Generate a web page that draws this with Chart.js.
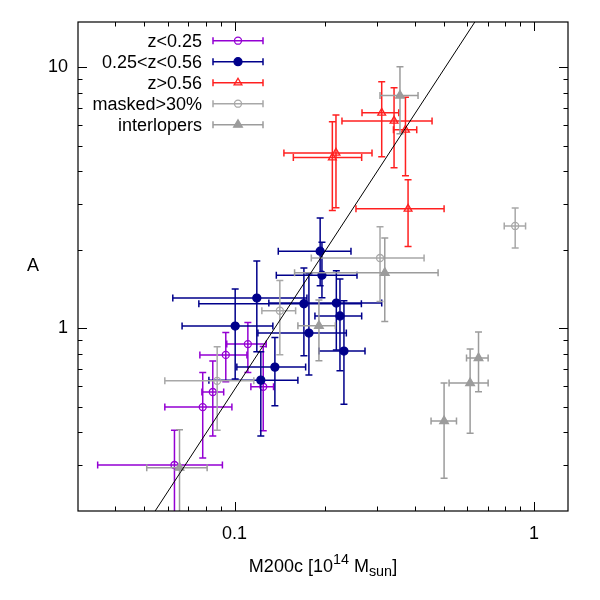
<!DOCTYPE html>
<html><head><meta charset="utf-8">
<script src="https://cdn.jsdelivr.net/npm/chart.js@4.4.1/dist/chart.umd.min.js"></script>
<style>html,body{margin:0;padding:0;background:#fff}#wrap{width:600px;height:600px}</style>
</head><body><div id="wrap"><canvas id="c" width="600" height="600"></canvas></div>
<script>
// ---------- data ----------
const seriesNames = ['z<0.25', '0.25<z<0.56', 'z>0.56', 'masked>30%', 'interlopers'];

const lowX   = [0.063, 0.0783, 0.0846, 0.0935, 0.1108, 0.1247];
const lowXlo = [0.0349, 0.0585, 0.0778, 0.0766, 0.0942, 0.1134];
const lowXhi = [0.0911, 0.098, 0.092, 0.110, 0.1276, 0.135];
const lowY   = [0.300, 0.500, 0.571, 0.792, 0.871, 0.598];
const lowYlo = [0.15, 0.319, 0.387, 0.625, 0.678, 0.406];
const lowYhi = [0.408, 0.678, 0.750, 0.965, 1.054, 0.853];

const midX   = [0.1005, 0.1187, 0.1224, 0.1364, 0.1705, 0.1772, 0.1932, 0.1959, 0.2188, 0.225, 0.232];
const midXlo = [0.0668, 0.0622, 0.0821, 0.1018, 0.076, 0.1197, 0.14, 0.1379, 0.1302, 0.1856, 0.1914];
const midXhi = [0.1343, 0.1745, 0.1628, 0.1728, 0.2653, 0.2363, 0.2449, 0.2565, 0.3102, 0.2659, 0.2728];
const midY   = [1.021, 1.307, 0.634, 0.711, 1.243, 0.960, 1.976, 1.599, 1.251, 1.116, 0.819];
const midYlo = [0.640, 0.814, 0.387, 0.506, 0.786, 0.663, 1.457, 1.311, 0.827, 0.689, 0.513];
const midYhi = [1.416, 1.812, 0.814, 0.924, 1.703, 1.62, 2.648, 2.136, 1.664, 1.546, 1.277];

const highX   = [0.3102, 0.3411, 0.3724, 0.2182, 0.2122, 0.3799];
const highXlo = [0.2666, 0.2285, 0.3395, 0.1462, 0.1572, 0.2545];
const highXhi = [0.3536, 0.4569, 0.4061, 0.2879, 0.2659, 0.5012];
const highY   = [6.69, 6.23, 5.76, 4.70, 4.51, 2.87];
const highYlo = [4.54, 4.12, 3.84, 2.90, 2.83, 2.06];
const highYhi = [8.79, 8.34, 7.67, 6.57, 6.18, 3.71];

const maskX   = [0.0875, 0.1417, 0.3062, 0.866];
const maskXlo = [0.0585, 0.1234, 0.1805, 0.796];
const maskXhi = [0.116, 0.16, 0.4297, 0.938];
const maskY   = [0.630, 1.169, 1.861, 2.468];
const maskYlo = [0.408, 0.793, 1.269, 2.032];
const maskYhi = [0.851, 1.527, 2.453, 2.893];

const intX   = [0.0655, 0.357, 0.3176, 0.1914, 0.5012, 0.6123, 0.6532];
const intXlo = [0.0509, 0.3062, 0.1587, 0.1628, 0.4534, 0.5208, 0.5956];
const intXhi = [0.081, 0.4102, 0.4786, 0.2172, 0.5514, 0.7033, 0.7033];
const intY   = [0.293, 7.79, 1.634, 1.024, 0.442, 0.618, 0.770];
const intYlo = [0.15, 5.56, 1.064, 0.752, 0.267, 0.397, 0.572];
const intYhi = [0.409, 10.04, 2.22, 1.285, 0.618, 0.834, 0.969];

const fitX = [0.0543, 0.635];
const fitY = [0.2, 14.9];

const xMajorTicks = [0.1, 1];
const xTickLabels = ['0.1', '1'];
const xMinorTicks = [0.04, 0.05, 0.06, 0.07, 0.08, 0.09, 0.2, 0.3, 0.4, 0.5, 0.6, 0.7, 0.8, 0.9];
const yMajorTicks = [1, 10];
const yTickLabels = ['1', '10'];
const yMinorTicks = [0.3, 0.4, 0.5, 0.6, 0.7, 0.8, 0.9, 2, 3, 4, 5, 6, 7, 8, 9];

const xTitleParts = [['M200c [10', 0], ['14', 1], [' M', 0], ['sun', -1], [']', 0]];
const yTitle = 'A';

// ---------- styles ----------
const FONT = '"Liberation Sans", Arial, sans-serif';
const styles = [
  {color: '#9400d3', shape: 'circle', r: 3.5, fill: false},
  {color: '#00008b', shape: 'circle', r: 4, fill: true},
  {color: '#ff2020', shape: 'triangle', r: 4.5, fill: false},
  {color: '#a8a8a8', shape: 'circle', r: 3.5, fill: false},
  {color: '#9c9c9c', shape: 'triangle', r: 5, fill: true}
];

function pts(xs, ys) { return xs.map((x, i) => ({x: x, y: ys[i]})); }
function errs(xlo, xhi, ylo, yhi) { return xlo.map((_, i) => [xlo[i], xhi[i], ylo[i], yhi[i]]); }

const seriesData = [
  [pts(lowX, lowY), errs(lowXlo, lowXhi, lowYlo, lowYhi)],
  [pts(midX, midY), errs(midXlo, midXhi, midYlo, midYhi)],
  [pts(highX, highY), errs(highXlo, highXhi, highYlo, highYhi)],
  [pts(maskX, maskY), errs(maskXlo, maskXhi, maskYlo, maskYhi)],
  [pts(intX, intY), errs(intXlo, intXhi, intYlo, intYhi)]
];

const datasets = seriesData.map((sd, k) => ({
  label: seriesNames[k],
  data: sd[0],
  errors: sd[1],
  barColor: styles[k].color,
  pointStyle: styles[k].shape,
  pointRadius: styles[k].r,
  pointHoverRadius: styles[k].r,
  pointBorderWidth: 1.3,
  borderColor: styles[k].color,
  backgroundColor: styles[k].fill ? styles[k].color : 'rgba(0,0,0,0)',
  showLine: false,
  order: 5 - k
}));
datasets.push({
  label: 'fit',
  data: pts(fitX, fitY),
  showLine: true,
  borderColor: '#000',
  borderWidth: 1,
  pointRadius: 0,
  fill: false,
  order: 0
});

const CAP = 3.5;

function drawMarker(ctx, st, x, y) {
  ctx.beginPath();
  if (st.shape === 'circle') {
    ctx.arc(x, y, st.r, 0, Math.PI * 2);
  } else {
    let rad = 0;
    ctx.moveTo(x + Math.sin(rad) * st.r, y - Math.cos(rad) * st.r);
    rad += 2 * Math.PI / 3;
    ctx.lineTo(x + Math.sin(rad) * st.r, y - Math.cos(rad) * st.r);
    rad += 2 * Math.PI / 3;
    ctx.lineTo(x + Math.sin(rad) * st.r, y - Math.cos(rad) * st.r);
    ctx.closePath();
  }
  ctx.lineWidth = 1.3;
  ctx.strokeStyle = st.color;
  if (st.fill) { ctx.fillStyle = st.color; ctx.fill(); }
  ctx.stroke();
}

const errorBarPlugin = {
  id: 'errbars',
  beforeDatasetDraw(chart, args) {
    const ds = chart.data.datasets[args.index];
    if (!ds.errors) return;
    const ctx = chart.ctx, a = chart.chartArea;
    const xs = chart.scales.x, ys = chart.scales.y;
    ctx.save();
    ctx.beginPath();
    ctx.rect(a.left, a.top, a.right - a.left, a.bottom - a.top);
    ctx.clip();
    ctx.strokeStyle = ds.barColor;
    ctx.lineWidth = 1.5;
    ds.data.forEach((p, i) => {
      const e = ds.errors[i];
      const px = xs.getPixelForValue(p.x), py = ys.getPixelForValue(p.y);
      const x0 = xs.getPixelForValue(e[0]), x1 = xs.getPixelForValue(e[1]);
      const y0 = ys.getPixelForValue(e[2]), y1 = ys.getPixelForValue(e[3]);
      ctx.beginPath();
      ctx.moveTo(x0, py); ctx.lineTo(x1, py);
      ctx.moveTo(x0, py - CAP); ctx.lineTo(x0, py + CAP);
      ctx.moveTo(x1, py - CAP); ctx.lineTo(x1, py + CAP);
      ctx.moveTo(px, y0); ctx.lineTo(px, y1);
      ctx.moveTo(px - CAP, y0); ctx.lineTo(px + CAP, y0);
      ctx.moveTo(px - CAP, y1); ctx.lineTo(px + CAP, y1);
      ctx.stroke();
    });
    ctx.restore();
  }
};

const framePlugin = {
  id: 'frame',
  afterDraw(chart) {
    const ctx = chart.ctx, a = chart.chartArea;
    const xs = chart.scales.x, ys = chart.scales.y;
    ctx.save();
    ctx.strokeStyle = '#000';
    ctx.lineWidth = 1.2;
    ctx.strokeRect(a.left, a.top, a.right - a.left, a.bottom - a.top);
    ctx.lineWidth = 1;
    const tick = (v, len, axis) => {
      ctx.beginPath();
      if (axis === 'x') {
        const p = Math.round(xs.getPixelForValue(v)) + 0.5;
        ctx.moveTo(p, a.bottom); ctx.lineTo(p, a.bottom - len);
        ctx.moveTo(p, a.top); ctx.lineTo(p, a.top + len);
      } else {
        const p = Math.round(ys.getPixelForValue(v)) + 0.5;
        ctx.moveTo(a.left, p); ctx.lineTo(a.left + len, p);
        ctx.moveTo(a.right, p); ctx.lineTo(a.right - len, p);
      }
      ctx.stroke();
    };
    xMajorTicks.forEach(v => tick(v, 9, 'x'));
    xMinorTicks.forEach(v => tick(v, 4.5, 'x'));
    yMajorTicks.forEach(v => tick(v, 9, 'y'));
    yMinorTicks.forEach(v => tick(v, 4.5, 'y'));

    // axis titles
    ctx.fillStyle = '#000';
    ctx.textBaseline = 'alphabetic';
    ctx.textAlign = 'left';
    const big = '18px ' + FONT, small = '14.4px ' + FONT;
    let total = 0;
    xTitleParts.forEach(pt => { ctx.font = pt[1] ? small : big; total += ctx.measureText(pt[0]).width; });
    let x = (a.left + a.right) / 2 - total / 2;
    const base = 571.5;
    xTitleParts.forEach(pt => {
      ctx.font = pt[1] ? small : big;
      const y = pt[1] === 1 ? base - 7.5 : (pt[1] === -1 ? base + 4 : base);
      ctx.fillText(pt[0], x, y);
      x += ctx.measureText(pt[0]).width;
    });
    ctx.font = big;
    ctx.textAlign = 'center';
    ctx.textBaseline = 'middle';
    ctx.fillText(yTitle, 33, (a.top + a.bottom) / 2);

    // legend
    const legY0 = 40.7, legDy = 21;
    seriesNames.forEach((name, k) => {
      const y = legY0 + k * legDy;
      ctx.font = big;
      ctx.fillStyle = '#000';
      ctx.textAlign = 'right';
      ctx.textBaseline = 'middle';
      ctx.fillText(name, 202, y + 1);
      const st = styles[k];
      ctx.strokeStyle = st.color;
      ctx.lineWidth = 1.5;
      ctx.beginPath();
      ctx.moveTo(213, y); ctx.lineTo(263, y);
      ctx.moveTo(213, y - CAP); ctx.lineTo(213, y + CAP);
      ctx.moveTo(263, y - CAP); ctx.lineTo(263, y + CAP);
      ctx.stroke();
      drawMarker(ctx, st, 238, y);
    });
    ctx.restore();
  }
};

new Chart(document.getElementById('c'), {
  type: 'scatter',
  data: {datasets: datasets},
  options: {
    responsive: false,
    animation: false,
    devicePixelRatio: 1,
    layout: {padding: {top: 22, right: 32, left: 0, bottom: 0}},
    plugins: {legend: {display: false}, tooltip: {enabled: false}},
    scales: {
      x: {
        type: 'logarithmic', min: 0.03, max: 1.3, position: 'bottom',
        grid: {display: false, drawTicks: false},
        border: {display: false},
        afterBuildTicks: s => { s.ticks = xMajorTicks.map(v => ({value: v})); },
        afterFit: s => { s.height = 89; },
        ticks: {
          autoSkip: false, maxRotation: 0, padding: 12, color: '#000',
          font: {family: FONT, size: 18},
          callback: (v, i) => xTickLabels[i]
        }
      },
      y: {
        type: 'logarithmic', min: 0.2, max: 14.9, position: 'left',
        grid: {display: false, drawTicks: false},
        border: {display: false},
        afterBuildTicks: s => { s.ticks = yMajorTicks.map(v => ({value: v})); },
        afterFit: s => { s.width = 78; },
        ticks: {
          autoSkip: false, padding: 10, color: '#000',
          font: {family: FONT, size: 18},
          callback: (v, i) => yTickLabels[i]
        }
      }
    }
  },
  plugins: [errorBarPlugin, framePlugin]
});
</script></body></html>
